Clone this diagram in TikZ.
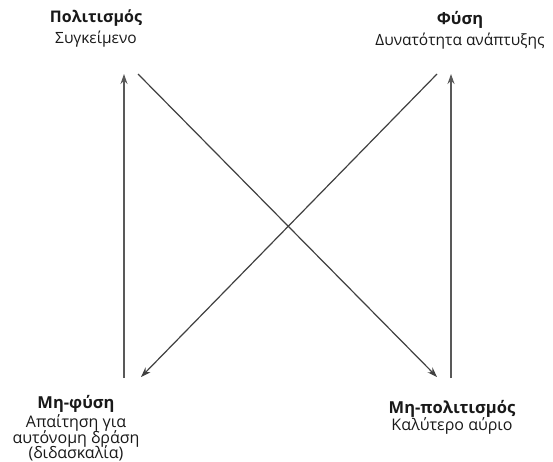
\documentclass[tikz,border=0pt]{standalone}
\usepackage{fontspec}
\setmainfont{Open Sans}
\usetikzlibrary{arrows.meta}
\begin{document}
\begin{tikzpicture}[x=1pt, y=-1pt, line join=round, >={Stealth[length=10pt,width=7pt]}]
	\useasboundingbox (0,0) rectangle (553,461);
	\tikzset{lbl/.style={text=black!90, inner sep=0pt, anchor=base}, arr/.style={draw=black!75, line width=1.2pt}}
	% ends of the four arrows
	\coordinate (LB) at (124,378);
	\coordinate (LT) at (124,74);
	\coordinate (RB) at (451,378);
	\coordinate (RT) at (451,74);
	\coordinate (DA) at (138,74);
	\coordinate (DB) at (437,377);
	\coordinate (DC) at (437,74);
	\coordinate (DD) at (141,377);
	\draw[arr, draw=black!65, ->] (LB) -- (LT);
	\draw[arr, draw=black!65, ->] (RB) -- (RT);
	\draw[arr, ->] (DA) -- (DB);
	\draw[arr, ->] (DC) -- (DD);
	% labels
	\node[lbl, font=\fontsize{16}{18}\selectfont\bfseries] (pol) at (96,22) {Πολιτισμός};
	\node[lbl, font=\fontsize{15.5}{18}\selectfont] (syg) at (96,43) {Συγκείμενο};
	\node[lbl, font=\fontsize{16.5}{18}\selectfont\bfseries] (fys) at (460,24) {Φύση};
	\node[lbl, font=\fontsize{15.5}{18}\selectfont] (dyn) at (460,45) {Δυνατότητα ανάπτυξης};
	\node[lbl, font=\fontsize{16.5}{18}\selectfont\bfseries] (mfys) at (76,408) {Μη-φύση};
	\node[lbl, font=\fontsize{16}{18}\selectfont] (apai) at (76,427) {Απαίτηση για};
	\node[lbl, font=\fontsize{16}{18}\selectfont] (auto) at (76,443) {αυτόνομη δράση};
	\node[lbl, font=\fontsize{16}{18}\selectfont] (did) at (76,458) {(διδασκαλία)};
	\node[lbl, font=\fontsize{16.5}{18}\selectfont\bfseries] (mpol) at (452,413) {Μη-πολιτισμός};
	\node[lbl, font=\fontsize{16}{18}\selectfont] (kal) at (452,430) {Καλύτερο αύριο};
\end{tikzpicture}
\end{document}
